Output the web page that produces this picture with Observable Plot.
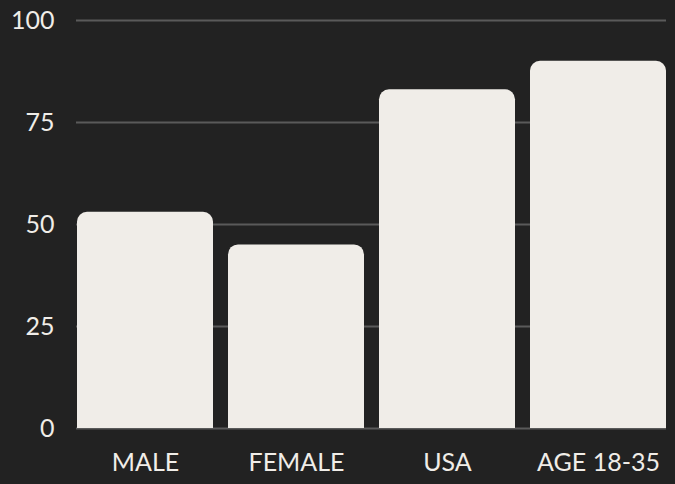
<!DOCTYPE html>
<html>
<head>
<meta charset="utf-8">
<script src="https://cdn.jsdelivr.net/npm/d3@7"></script>
<script src="https://cdn.jsdelivr.net/npm/@observablehq/plot@0.6"></script>
<style>
  html, body { margin: 0; padding: 0; background: #222222; }
  #chart svg { display: block; }
</style>
</head>
<body>
<div id="chart"></div>
<script>
const categories = ["MALE", "FEMALE", "USA", "AGE 18-35"];
const values = [53, 45, 83, 90];
const yTicks = [0, 25, 50, 75, 100];

const data = categories.map((c, i) => ({category: c, value: values[i]}));

const chart = Plot.plot({
  width: 675,
  height: 484,
  marginLeft: 76,
  marginRight: 9,
  marginTop: 20,
  marginBottom: 56,
  style: {background: "#222222", color: "#f0ede8", fontFamily: "Lato, 'Open Sans', sans-serif", fontSize: "25px"},
  x: {domain: categories, paddingInner: 0.1, paddingOuter: 0, label: null, tickSize: 0, tickPadding: 25},
  y: {domain: [0, 100], label: null, ticks: yTicks, tickSize: 0, tickPadding: 22},
  marks: [
    Plot.ruleY(yTicks, {stroke: "#5a5a5a", strokeWidth: 2}),
    Plot.barY(data, {x: "category", y: "value", fill: "#f0ede8", rx: 10}),
    Plot.barY(data, {x: "category", y1: 0, y2: d => d.value / 2, fill: "#f0ede8"})
  ]
});
document.getElementById("chart").appendChild(chart);
</script>
</body>
</html>
